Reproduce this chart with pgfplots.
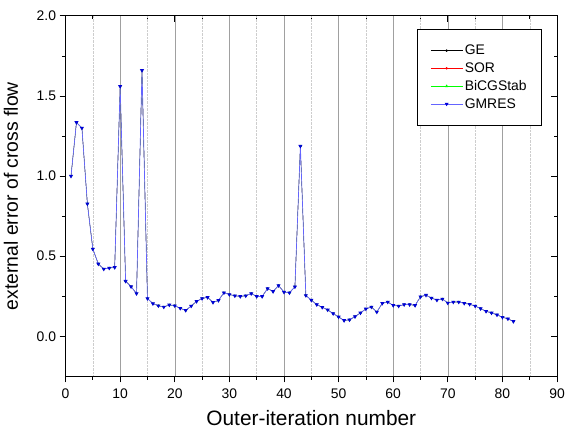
\documentclass[border=0pt]{standalone}
\usepackage{fontspec}
\setmainfont{Liberation Sans}
\usepackage{pgfplots}
\usepackage{pgfplotstable}
\pgfplotsset{compat=1.18}

\definecolor{lineblue}{RGB}{100,100,255}
\definecolor{markblue}{RGB}{0,0,215}
\definecolor{gridmaj}{RGB}{160,160,160}
\definecolor{gridmin}{RGB}{205,205,205}

\pgfplotstableread{
it err
1 1.000
2 1.335
3 1.300
4 0.827
5 0.545
6 0.452
7 0.420
8 0.426
9 0.430
10 1.560
11 0.344
12 0.310
13 0.267
14 1.660
15 0.236
16 0.204
17 0.191
18 0.183
19 0.196
20 0.191
21 0.175
22 0.162
23 0.189
24 0.218
25 0.236
26 0.243
27 0.212
28 0.224
29 0.272
30 0.261
31 0.253
32 0.249
33 0.253
34 0.267
35 0.249
36 0.249
37 0.298
38 0.280
39 0.317
40 0.276
41 0.272
42 0.309
43 1.187
44 0.255
45 0.226
46 0.198
47 0.181
48 0.165
49 0.142
50 0.121
51 0.099
52 0.103
53 0.123
54 0.146
55 0.171
56 0.183
57 0.152
58 0.206
59 0.214
60 0.193
61 0.189
62 0.198
63 0.198
64 0.193
65 0.247
66 0.257
67 0.239
68 0.226
69 0.233
70 0.208
71 0.214
72 0.214
73 0.206
74 0.200
75 0.189
76 0.173
77 0.156
78 0.146
79 0.134
80 0.119
81 0.109
82 0.093
}\errdata

\begin{document}
\begin{tikzpicture}
% frame ticks pointing inward on top and right
\begin{axis}[
  width=495pt, height=363pt, scale only axis,
  xmin=0, xmax=90, ymin=-0.25, ymax=2.0,
  xtick={0,10,...,90}, minor x tick num=1,
  ytick={0,0.5,...,2.0}, minor y tick num=1,
  xtick pos=right, ytick pos=right, tick align=inside,
  xticklabels={}, yticklabels={},
  axis line style={draw=none},
  major tick length=6pt, minor tick length=3.5pt,
  every tick/.style={black, line width=0.8pt},
]
\end{axis}
\begin{axis}[
  name=ax,
  width=495pt, height=363pt, scale only axis,
  xmin=0, xmax=90, ymin=-0.25, ymax=2.0,
  xtick={0,10,...,90}, minor x tick num=1,
  ytick={0,0.5,...,2.0}, minor y tick num=1,
  xtick pos=left, ytick pos=left, tick align=outside,
  major tick length=6pt, minor tick length=3.5pt,
  every tick/.style={black, line width=0.8pt},
  axis line style={line width=1pt},
  xmajorgrids, xminorgrids,
  major grid style={gridmaj, line width=0.5pt},
  minor grid style={gridmin, densely dotted, line width=0.5pt},
  /pgf/number format/assume math mode=true,
  yticklabel style={/pgf/number format/.cd, fixed, fixed zerofill, precision=1},
  tick label style={font=\fontsize{14}{16}\selectfont},
  xticklabel style={yshift=-3pt},
  xlabel={Outer-iteration number},
  ylabel={external error of cross flow},
  xlabel style={font=\fontsize{21}{24}\selectfont, yshift=-5pt},
  ylabel style={font=\fontsize{19.5}{22}\selectfont, yshift=12pt},
  legend style={at={(rel axis cs:0.969,0.964)}, anchor=north east,
    font=\fontsize{14}{17}\selectfont, draw=black, line width=0.6pt,
    inner xsep=13pt, inner ysep=14pt, row sep=2.5pt, cells={anchor=west}},
  legend image code/.code={
    \draw[#1, line width=0.6pt, mark repeat=2, mark phase=2] plot coordinates {(0pt,0pt) (16pt,0pt) (32pt,0pt)};
  },
]
\addplot[black, line width=0.15pt, mark=*, mark size=0.9pt] table[x=it, y=err] {\errdata};
\addlegendentry{GE}
\addplot[red, line width=0.15pt, mark=*, mark size=0.9pt] table[x=it, y=err] {\errdata};
\addlegendentry{SOR}
\addplot[green, line width=0.15pt, mark=triangle*, mark size=1.2pt] table[x=it, y=err] {\errdata};
\addlegendentry{BiCGStab}
\addplot[lineblue, line width=0.7pt, mark=triangle*, mark size=1.7pt,
  mark options={markblue, rotate=180}] table[x=it, y=err] {\errdata};
\addlegendentry{GMRES}
\end{axis}
\pgfresetboundingbox
\path[use as bounding box] ([xshift=-66pt,yshift=-60pt]ax.south west) rectangle ([xshift=10pt,yshift=16pt]ax.north east);
\end{tikzpicture}
\end{document}
